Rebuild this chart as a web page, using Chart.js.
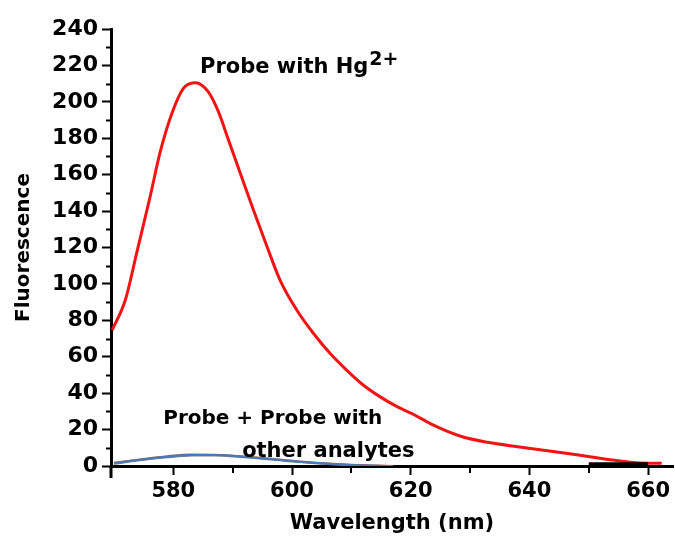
<!DOCTYPE html>
<html>
  <head>
    <title>Fluorescence spectra</title>
    <script src="https://cdn.jsdelivr.net/npm/chart.js@4.4.1/dist/chart.umd.min.js"></script>
    <style>
      body { margin: 0; background: #fff; }
      #container { width: 675px; height: 539px; }
    </style>
  </head>

  <body>
    <div id="container">
      <canvas id="canvas"></canvas>
    </div>
    <script>
      // probe + Hg2+ (red)
      const hgWavelength = [569.7, 571.9, 573.9, 576.1, 577.8, 579.8, 581.7, 583.7, 585.9, 587.6, 589.3, 591.3, 593.5, 595.8, 598.0, 600.8,
        603.6, 606.4, 609.2, 612.0, 614.8, 617.7, 620.5, 623.3, 628.3, 633.0, 638.0, 644.0, 650.2, 655.0, 658.0, 662.3];
      const hgValues = [74.7, 91, 118, 148, 172.6, 194, 207.4, 210.5, 205.5, 194.6, 179, 160.7, 140.6, 120.4, 102, 85.7,
        72.9, 61.9, 52.7, 44.5, 38.1, 32.6, 28.3, 23.3, 16.5, 13, 10.6, 8, 5.1, 2.9, 1.8, 1.5];

      // probe alone and probe with the other analytes (flat, overlapping)
      const otherWavelength = [570, 574, 579, 583, 587, 592, 597, 601, 605, 610, 614, 617];
      const probeValues = [1.5, 3.3, 5.1, 6.0, 6.0, 5.0, 3.6, 2.4, 1.5, 0.5, 0.2, 0];
      const otherValuesA = [1.8, 3.5, 5.4, 6.3, 6.2, 5.2, 3.8, 2.6, 1.6, 0.7, 0.3, 0];
      const otherValuesB = [1.2, 3.0, 4.8, 5.7, 5.8, 4.8, 3.4, 2.2, 1.3, 0.4, 0.1, 0];
      const otherValuesC = [1.6, 3.2, 5.0, 5.9, 6.1, 5.1, 3.5, 2.3, 1.4, 0.6, 0.2, 0];
      const tailWavelength = [650, 660];
      const tailValues = [1.2, 1.2];

      const xTicks = [580, 600, 620, 640, 660];
      const xMinorTicks = [590, 610, 630, 650];
      const yTicks = [0, 20, 40, 60, 80, 100, 120, 140, 160, 180, 200, 220, 240];
      const yMinorTicks = [10, 30, 50, 70, 90, 110, 130, 150, 170, 190, 210, 230];

      const hgLabel = 'Probe with Hg';
      const hgCharge = '2+';
      const otherLabel = ['Probe + Probe with', 'other analytes'];

      const FONT = 'DejaVu Sans';
      const pts = (xs, ys) => xs.map((x, i) => ({ x: x, y: ys[i] }));
      const line = (label, xs, ys, color, width) => ({
        label: label,
        data: pts(xs, ys),
        borderColor: color,
        borderWidth: width,
        pointRadius: 0,
        cubicInterpolationMode: 'monotone',
        fill: false,
      });

      // minor ticks, the bit of y axis below the x axis, and the text labels
      const extras = {
        id: 'extras',
        afterDraw(chart) {
          const { ctx, scales: { x, y } } = chart;
          ctx.save();
          ctx.strokeStyle = '#000';
          ctx.lineWidth = 2;
          yMinorTicks.forEach((v) => {
            const py = Math.round(y.getPixelForValue(v)) + 0.5;
            ctx.beginPath();
            ctx.moveTo(x.left - 5, py);
            ctx.lineTo(x.left, py);
            ctx.stroke();
          });
          xMinorTicks.forEach((v) => {
            const px = Math.round(x.getPixelForValue(v));
            ctx.beginPath();
            ctx.moveTo(px, y.bottom);
            ctx.lineTo(px, y.bottom + 7);
            ctx.stroke();
          });
          ctx.lineWidth = 3;
          ctx.beginPath();
          ctx.moveTo(x.left, y.bottom);
          ctx.lineTo(x.left, y.bottom + 12);
          ctx.stroke();

          ctx.fillStyle = '#000';
          ctx.textBaseline = 'alphabetic';
          ctx.font = 'bold 21px ' + FONT;
          const hx = x.getPixelForValue(584.5);
          const hy = y.getPixelForValue(215.8);
          ctx.fillText(hgLabel, hx, hy);
          const w = ctx.measureText(hgLabel).width;
          ctx.font = 'bold 19px ' + FONT;
          ctx.fillText(hgCharge, hx + w + 1, hy - 8);

          ctx.font = 'bold 20px ' + FONT;
          ctx.fillText(otherLabel[0], x.getPixelForValue(578.3), y.getPixelForValue(22.9));
          ctx.font = 'bold 21px ' + FONT;
          ctx.fillText(otherLabel[1], x.getPixelForValue(591.6), y.getPixelForValue(5.1));
          ctx.restore();
        },
      };

      window.onload = () => {
        const ctx = document.getElementById('canvas').getContext('2d');
        window.myChart = new Chart(ctx, {
          type: 'line',
          data: {
            datasets: [
              line('Probe', otherWavelength, probeValues, '#4a78b8', 2),
              line('Other A', otherWavelength, otherValuesA, '#9a6250', 2),
              line('Other B', otherWavelength, otherValuesB, '#6f7f8f', 2),
              line('Other C', otherWavelength, otherValuesC, '#3f6fa8', 1.5),
              line('Tail', tailWavelength, tailValues, '#000', 3),
              line('Probe with Hg2+', hgWavelength, hgValues, '#f01414', 3),
            ],
          },
          options: {
            responsive: true,
            maintainAspectRatio: false,
            animation: false,
            layout: { padding: { left: 0, top: 29, right: 2, bottom: 0 } },
            plugins: { legend: { display: false }, tooltip: { enabled: false } },
            scales: {
              x: {
                type: 'linear',
                min: 569.5,
                max: 664.2,
                afterBuildTicks: (s) => { s.ticks = xTicks.map((v) => ({ value: v })); },
                afterFit: (s) => { s.height = 73; },
                border: { display: true, color: '#000', width: 3 },
                grid: { drawOnChartArea: false, drawTicks: true, tickLength: 9, tickWidth: 2, tickColor: '#000' },
                ticks: { color: '#000', padding: 4, maxRotation: 0, font: { family: FONT, size: 21, weight: 'bold' } },
                title: {
                  display: true,
                  text: 'Wavelength (nm)',
                  color: '#000',
                  padding: { top: 0, bottom: 3 },
                  font: { family: FONT, size: 21, weight: 'bold' },
                },
              },
              y: {
                min: 0,
                max: 240,
                afterBuildTicks: (s) => { s.ticks = yTicks.map((v) => ({ value: v })); },
                afterFit: (s) => { s.width = 111; },
                border: { display: true, color: '#000', width: 3 },
                grid: { drawOnChartArea: false, drawTicks: true, tickLength: 9, tickWidth: 2, tickColor: '#000' },
                ticks: { color: '#000', padding: 4, font: { family: FONT, size: 22, weight: 'bold' } },
                title: {
                  display: true,
                  text: 'Fluorescence',
                  color: '#000',
                  padding: { top: 12, bottom: 0 },
                  font: { family: FONT, size: 20, weight: 'bold' },
                },
              },
            },
          },
          plugins: [extras],
        });
      };
    </script>
  </body>
</html>
